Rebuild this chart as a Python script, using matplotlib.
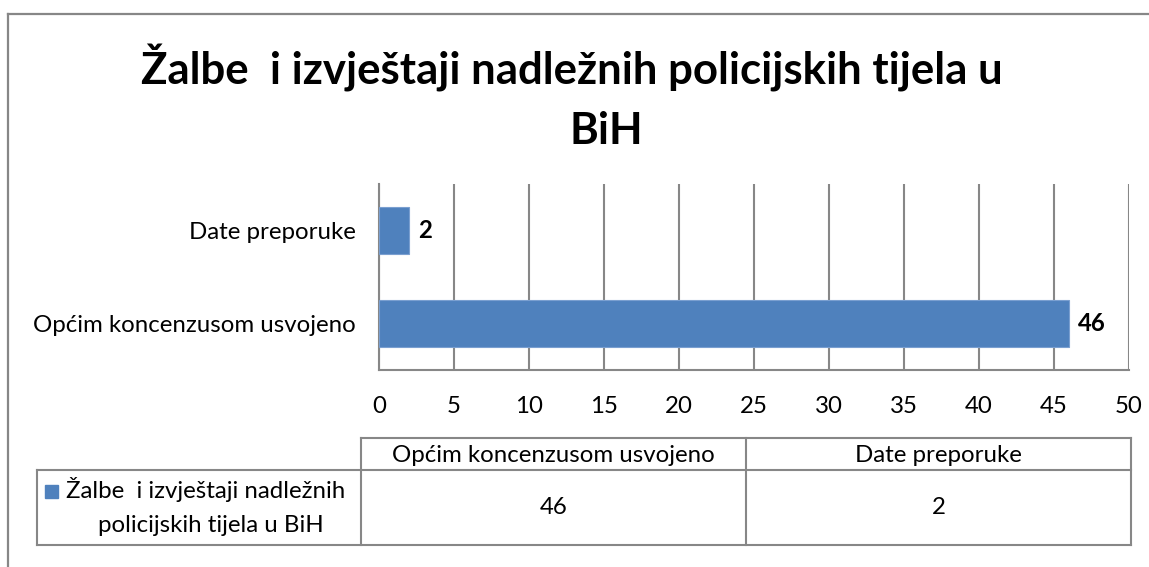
import matplotlib.pyplot as plt
from matplotlib.lines import Line2D
from matplotlib.patches import Rectangle

categories = ["Općim koncenzusom usvojeno", "Date preporuke"]
values = [46, 2]
series_name = "Žalbe  i izvještaji nadležnih policijskih tijela u BiH"
title_lines = ["Žalbe  i izvještaji nadležnih policijskih tijela u", "BiH"]
x_ticks = [0, 5, 10, 15, 20, 25, 30, 35, 40, 45, 50]

W, H = 1149, 567
BLUE = "#4F81BD"
GRAY = "#878787"
FS = 17.3
plt.rcParams["font.family"] = ["Lato", "DejaVu Sans"]


def fx(px):
    return px / W


def fy(py):
    return 1 - py / H


fig = plt.figure(figsize=(W / 100, H / 100), dpi=100)

# outer chart border (only left and top visible)
fig.add_artist(Line2D([fx(8), fx(8)], [fy(14), fy(567)], color=GRAY, lw=1.6))
fig.add_artist(Line2D([fx(8), fx(1149)], [fy(14), fy(14)], color=GRAY, lw=1.6))

fig.text(fx(572), fy(68), title_lines[0], ha="center", va="center", fontsize=31.5, fontweight="bold")
fig.text(fx(606), fy(131), title_lines[1], ha="center", va="center", fontsize=31.5, fontweight="bold")

ax = fig.add_axes([fx(379), fy(370), fx(1129) - fx(379), fy(184) - fy(370)])
ypos = list(range(len(categories)))
bars = ax.barh(ypos, values, height=0.51, color=BLUE, edgecolor="#7A9FD0", lw=0.8, zorder=3)
ax.set_xlim(0, 50)
ax.set_ylim(-0.5, 1.5)
ax.set_xticks(x_ticks)
ax.set_yticks(ypos)
ax.set_yticklabels(categories, fontsize=FS)
ax.tick_params(axis="x", length=0, pad=18.5, labelsize=FS)
ax.tick_params(axis="y", length=0, pad=17)
ax.grid(axis="x", color=GRAY, lw=1.5, zorder=0)
for s in ["top", "right"]:
    ax.spines[s].set_visible(False)
for s in ["left", "bottom"]:
    ax.spines[s].set_color(GRAY)
    ax.spines[s].set_linewidth(1.5)
for b, v in zip(bars, values):
    ax.text(v + 0.6, b.get_y() + b.get_height() / 2, str(v), ha="left", va="center",
            fontsize=FS, fontweight="bold")

# data table under the chart
col_edges = [361, 746, 1131]
tl = dict(color=GRAY, lw=1.5)
for xa, xb, ya, yb in [
    (361, 1131, 438, 438), (37, 1131, 470, 470), (37, 1131, 545, 545),
    (37, 37, 470, 545), (361, 361, 438, 545), (746, 746, 438, 545), (1131, 1131, 438, 545),
]:
    fig.add_artist(Line2D([fx(xa), fx(xb)], [fy(ya), fy(yb)], **tl))

for i, cat in enumerate(categories):
    xc = (col_edges[i] + col_edges[i + 1]) / 2
    fig.text(fx(xc), fy(455), cat, ha="center", va="center", fontsize=FS)
    fig.text(fx(xc), fy(508), str(values[i]), ha="center", va="center", fontsize=FS)

fig.add_artist(Rectangle((fx(45), fy(498)), fx(13), fy(485) - fy(498), color=BLUE))
words = series_name.split(" ")
fig.text(fx(66), fy(490), " ".join(words[:5]), ha="left", va="center", fontsize=FS)
fig.text(fx(211), fy(525), " ".join(words[5:]), ha="center", va="center", fontsize=FS)

fig.savefig("out.png", dpi=100)
